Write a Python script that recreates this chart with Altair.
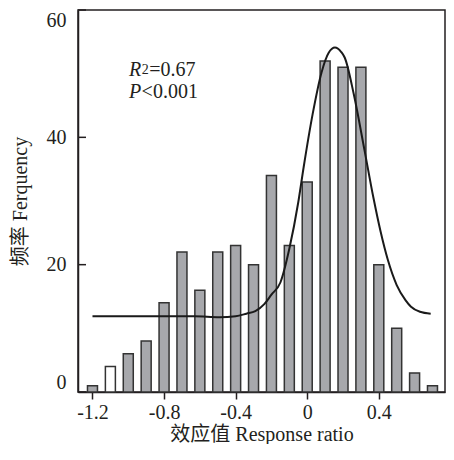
import altair as alt
import pandas as pd

# Histogram bins (centres) and counts
bin_centers = [-1.2, -1.1, -1.0, -0.9, -0.8, -0.7, -0.6, -0.5, -0.4, -0.3,
               -0.2, -0.1, 0.0, 0.1, 0.2, 0.3, 0.4, 0.5, 0.6, 0.7]
counts = [1, 4, 6, 8, 14, 22, 16, 22, 23, 20,
          34, 23, 33, 52, 51, 51, 20, 10, 3, 1]
bar_kind = ["grey", "white"] + ["grey"] * 18

# Fitted curve
curve_x = [-1.2, -1.0, -0.8, -0.63, -0.49, -0.4, -0.34, -0.29, -0.24, -0.2,
           -0.15, -0.1, -0.05, -0.02, 0.03, 0.08, 0.12, 0.155, 0.19, 0.21,
           0.26, 0.32, 0.37, 0.41, 0.45, 0.5, 0.55, 0.58, 0.63, 0.69]
curve_y = [11.9, 11.9, 11.9, 11.9, 11.75, 11.9, 12.3, 12.7, 13.8, 15.3,
           17.2, 22.5, 29.8, 35.3, 43.6, 50.2, 53.3, 54.1, 53.4, 52.5,
           46.8, 38.0, 30.5, 25.2, 20.8, 16.8, 14.4, 13.4, 12.6, 12.3]

x_ticks = [-1.2, -0.8, -0.4, 0, 0.4]
y_ticks = [0, 20, 40, 60]

FONT = "Liberation Serif, Noto Sans CJK SC, serif"
INK = "#231f20"
W = 367
H = 382

bars_df = pd.DataFrame({"x": bin_centers, "n": counts, "kind": bar_kind})
curve_df = pd.DataFrame({"x": curve_x, "y": curve_y})
yt_df = pd.DataFrame({"y": y_ticks})

xscale = alt.Scale(domain=[-1.253, 0.742], nice=False, zero=False)
yscale = alt.Scale(domain=[0, 60], nice=False)

xaxis = alt.Axis(values=x_ticks, labelExpr="'' + datum.value", tickSize=7,
                 tickColor=INK, tickWidth=1.5, domainColor=INK, domainWidth=1.5,
                 labelFont=FONT, labelFontSize=20, labelColor=INK, labelPadding=3,
                 title="效应值 Response ratio", titleFont=FONT, titleFontSize=20,
                 titleFontWeight="normal", titleColor=INK, titleY=42,
                 titleBaseline="middle", grid=False)
yaxis = alt.Axis(values=y_ticks, tickSize=0, domainColor=INK, domainWidth=1.5,
                 labelFont=FONT, labelFontSize=20, labelColor=INK, labelPadding=12,
                 labelFlush=True,
                 title="频率 Ferquency", titleFont=FONT, titleFontSize=20,
                 titleFontWeight="normal", titleColor=INK, titleX=-58, titleY=H / 2,
                 titleAngle=-90, titleAlign="center", titleBaseline="middle", grid=False)

bars = alt.Chart(bars_df).mark_bar(size=10, stroke="#333333", strokeWidth=1.5).encode(
    x=alt.X("x:Q", scale=xscale, axis=xaxis),
    y=alt.Y("n:Q", scale=yscale, axis=yaxis),
    color=alt.Color("kind:N", scale=alt.Scale(domain=["grey", "white"],
                                              range=["#a7a8ac", "#ffffff"]), legend=None),
)

curve = alt.Chart(curve_df).mark_line(color="#1a1a1a", strokeWidth=2,
                                      interpolate="monotone").encode(
    x=alt.X("x:Q", scale=xscale),
    y=alt.Y("y:Q", scale=yscale),
)

yticks = alt.Chart(yt_df).mark_rule(color=INK, strokeWidth=1.5).encode(
    x=alt.value(0), x2=alt.value(8), y=alt.Y("y:Q", scale=yscale),
)

def txt(s, x, y, size=20, style="normal"):
    return alt.Chart(pd.DataFrame({"t": [s]})).mark_text(
        font=FONT, fontSize=size, fontStyle=style, color=INK,
        align="left", baseline="alphabetic").encode(
        x=alt.value(x), y=alt.value(y), text="t:N")

labels = (txt("R", 51, 66, style="italic") + txt("2", 63.8, 63.5, size=14)
          + txt("=0.67", 71.3, 66) + txt("P", 51, 87.5, style="italic")
          + txt("<0.001", 63.6, 87.5))

chart = alt.layer(bars, curve, yticks, labels).properties(
    width=W, height=H,
    autosize=alt.AutoSizeParams(type="none"),
    padding={"left": 70, "top": 2, "right": 1, "bottom": 52},
).configure_view(stroke=INK, strokeWidth=1.5)

chart.save("out.html", embed_options={"renderer": "svg", "actions": False})
